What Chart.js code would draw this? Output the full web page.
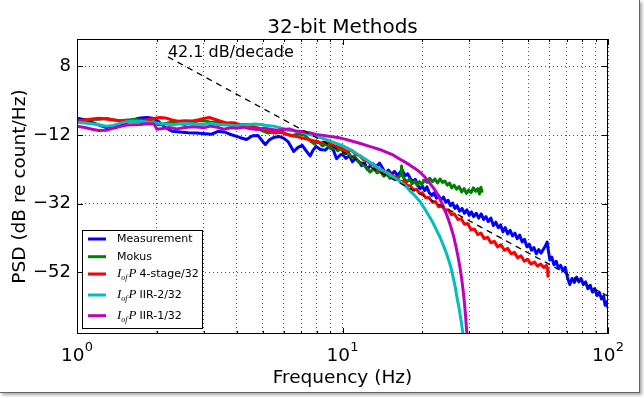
<!DOCTYPE html>
<html>
<head>
<meta charset="utf-8">
<script src="https://cdn.jsdelivr.net/npm/chart.js@4/dist/chart.umd.min.js"></script>
<style>
  html, body { margin: 0; padding: 0; background: #fff; }
  #frame { position: absolute; left: 0; top: 0; width: 639px; height: 392px; background: #fff;
           border-right: 1px solid #666; border-bottom: 1px solid #666; box-shadow: 2px 2px 3px rgba(0,0,0,0.35); }
  #wrap { position: absolute; left: 0; top: 0; width: 644px; height: 398px; }
</style>
</head>
<body>
<div id="frame"></div>
<div id="wrap"><canvas id="psdChart" width="644" height="398"></canvas></div>
<script>
// frequency (Hz) / PSD (dB re count/Hz)
const measFreq = [1.00,1.07,1.14,1.21,1.29,1.37,1.45,1.54,1.63,1.73,1.84,1.95,2.04,2.15,2.28,2.44,2.62,2.82,3.05,3.20,3.40,3.62,3.85,4.10,4.35,4.58,4.80,5.00,5.12,5.30,5.50,5.75,6.00,6.25,6.55,6.80,7.05,7.30,7.55,7.75,7.95,8.25,8.60,8.95,9.25,9.50,9.80,
  10.0,10.3,10.6,10.9,11.2,11.5,11.8,12.1,12.4,12.7,13.0,13.4,13.8,14.2,14.5,14.9,15.3,15.7,16.1,16.5,16.8,17.2,17.6,18.0,18.4,18.8,19.2,19.6,20.0,20.4,20.8,21.2,21.7,22.1,22.6,23.0,23.5,24.0,24.5,25.0,25.5,26.0,26.5,27.0,27.6,28.2,28.8,29.4,30.0,30.6,31.2,31.9,32.6,33.3,34.0,34.7,35.4,36.2,37.0,37.8,38.6,39.4,40.2,41.0,41.9,42.8,43.7,44.6,45.5,46.5,47.5,48.5,49.5,50.5,51.5,52.6,53.7,54.8,56.0,57.2,58.2,59.0,59.6,60.4,61.4,62.6,63.8,65.0,66.3,67.6,69.0,70.4,71.8,73.2,74.7,76.2,77.7,79.2,80.8,82.4,84.0,85.7,87.4,89.1,90.9,92.7,94.5,96.3,97.5,98.7,100];
const measPsd = [-7.1,-7.5,-8.3,-9.1,-9.8,-9.5,-9.0,-8.3,-7.5,-7.0,-6.9,-7.2,-8.2,-9.8,-10.9,-11.1,-11.3,-11.4,-11.6,-11.8,-10.9,-11.2,-12.0,-12.7,-13.3,-12.2,-12.1,-13.8,-14.8,-13.4,-12.7,-12.4,-12.9,-14.0,-16.8,-15.6,-15.0,-16.6,-18.1,-16.4,-15.3,-16.2,-16.4,-15.2,-16.5,-18.9,-17.8,
  -17.6,-18.8,-18.0,-19.8,-18.9,-19.6,-20.9,-20.1,-22.0,-21.0,-20.3,-21.2,-20.2,-21.8,-23.1,-22.2,-23.4,-22.6,-23.8,-22.8,-22.2,-23.9,-23.3,-24.6,-25.6,-24.9,-26.6,-27.7,-26.9,-28.2,-27.1,-28.8,-29.6,-28.9,-30.4,-29.6,-30.9,-30.1,-31.6,-31.0,-32.6,-31.8,-33.4,-32.6,-34.2,-33.4,-34.8,-33.8,-35.4,-34.4,-35.8,-34.8,-36.2,-35.0,-36.6,-35.8,-37.2,-36.2,-38.4,-37.4,-39.0,-38.2,-40.2,-39.0,-40.8,-39.8,-41.4,-40.6,-42.2,-41.2,-43.2,-42.4,-44.6,-43.8,-45.6,-44.8,-46.6,-45.4,-46.4,-45.2,-44.2,-43.2,-45.6,-48.4,-47.6,-49.8,-48.8,-50.8,-50.0,-51.6,-50.6,-53.6,-55.6,-53.8,-55.0,-53.4,-54.8,-53.8,-55.6,-54.8,-56.8,-55.8,-57.8,-56.8,-58.8,-57.8,-59.8,-59.0,-61.6,-60.6,-62.4];

const mokusFreq = [1.00,1.07,1.14,1.21,1.29,1.37,1.45,1.54,1.63,1.73,1.84,1.95,2.02,2.12,2.25,2.40,2.55,2.72,2.90,3.05,3.20,3.40,3.60,3.80,4.00,4.20,4.45,4.70,5.00,5.25,5.55,5.80,6.10,6.45,6.80,7.20,
  7.60,7.85,8.10,8.40,8.70,9.00,9.30,9.60,9.90,10.2,10.5,10.8,11.1,11.5,11.9,12.3,12.7,13.1,13.5,13.9,14.3,14.7,15.1,15.5,15.9,16.3,16.6,16.7,16.8,17.1,17.5,17.9,18.3,18.7,19.1,19.5,19.9,20.3,20.8,21.3,21.8,22.3,22.8,23.3,23.8,24.3,24.8,25.3,25.8,26.3,26.9,27.5,28.1,28.7,29.3,29.9,30.5,31.1,31.7,32.3,32.8,33.2,33.6];
const mokusPsd = [-7.9,-7.7,-7.5,-7.4,-7.2,-7.5,-7.9,-7.7,-7.5,-7.6,-7.8,-8.2,-9.0,-8.8,-8.3,-8.6,-8.9,-8.3,-7.8,-7.9,-8.3,-8.2,-8.6,-8.4,-9.4,-9.0,-8.9,-9.8,-10.8,-11.4,-10.9,-10.6,-11.6,-12.2,-11.7,-12.0,
  -13.8,-14.6,-13.9,-15.2,-14.6,-15.9,-15.4,-16.6,-16.0,-17.4,-17.0,-18.4,-18.2,-19.9,-20.3,-21.6,-22.8,-21.8,-23.0,-22.6,-24.0,-23.4,-24.6,-23.8,-25.0,-24.2,-23.6,-21.0,-23.8,-24.8,-25.6,-24.8,-26.2,-25.4,-26.6,-25.6,-26.4,-25.2,-25.8,-24.6,-25.6,-24.8,-26.0,-24.8,-25.8,-25.4,-26.6,-26.0,-27.4,-26.6,-27.8,-27.0,-28.6,-27.6,-29.0,-28.0,-28.8,-27.4,-28.4,-27.6,-29.2,-27.2,-28.8];

const stage4Freq = [1.00,1.07,1.14,1.21,1.29,1.37,1.45,1.54,1.63,1.73,1.84,1.95,2.05,2.15,2.28,2.40,2.55,2.72,2.88,3.00,3.15,3.30,3.50,3.70,3.90,4.10,4.35,4.60,4.85,5.05,5.30,5.55,5.85,6.15,6.50,6.85,7.20,7.55,7.90,8.30,8.70,9.10,9.55,
  10.0,10.4,10.8,11.2,11.6,12.0,12.4,12.8,13.2,13.6,14.0,14.5,15.0,15.5,16.0,16.5,17.0,17.5,18.0,18.5,19.0,19.5,20.0,20.6,21.2,21.8,22.4,23.0,23.6,24.3,25.0,25.7,26.4,27.2,28.0,28.8,29.6,30.5,31.4,32.3,33.2,34.2,35.2,36.2,37.3,38.4,39.5,40.7,41.9,43.1,44.4,45.7,47.0,48.4,49.8,51.3,52.8,54.3,55.8,57.3,58.6,59.2,59.4];
const stage4Psd = [-7.8,-7.6,-7.3,-7.1,-7.3,-7.6,-7.8,-7.7,-7.9,-8.0,-7.5,-7.2,-6.9,-7.0,-7.6,-8.0,-7.8,-7.9,-7.5,-7.2,-6.9,-7.4,-8.0,-8.6,-8.4,-9.0,-9.3,-9.6,-10.0,-10.3,-10.9,-11.4,-11.2,-11.8,-12.2,-12.6,-13.0,-13.4,-13.8,-14.3,-14.0,-14.8,-15.4,
  -16.0,-16.8,-16.4,-17.6,-18.0,-19.2,-19.6,-20.6,-20.9,-22.2,-22.0,-23.2,-23.0,-24.2,-24.4,-25.6,-25.4,-26.7,-26.8,-28.0,-27.8,-29.0,-28.9,-30.3,-30.2,-31.6,-31.4,-32.9,-32.6,-33.9,-33.8,-35.2,-35.0,-36.6,-36.4,-38.0,-37.8,-39.6,-39.4,-41.0,-40.6,-42.2,-41.8,-43.4,-43.0,-44.6,-44.0,-45.6,-45.0,-46.6,-46.2,-47.8,-47.2,-48.8,-48.2,-49.6,-49.0,-50.2,-49.6,-50.6,-50.0,-51.0,-53.2];

const iir2Freq = [1.00,1.07,1.14,1.21,1.29,1.37,1.45,1.54,1.63,1.73,1.84,1.95,2.05,2.15,2.30,2.45,2.60,2.80,3.00,3.20,3.40,3.65,3.90,4.15,4.40,4.65,4.90,5.20,5.50,5.85,6.20,6.60,7.05,7.50,7.95,8.45,9.00,9.60,10.2,10.9,11.6,12.3,13.0,13.8,14.6,15.5,16.4,17.2,17.9,18.7,19.5,20.2,20.8,21.4,22.0,22.7,23.3,24.0,24.6,25.1,25.6,26.1,26.6,27.0,27.5,27.9,28.2,28.5];
const iir2Psd = [-8.3,-8.5,-8.7,-9.0,-9.4,-9.2,-8.6,-8.1,-7.9,-8.0,-8.2,-8.4,-8.6,-8.8,-9.0,-8.7,-8.6,-8.8,-8.9,-8.6,-8.9,-9.1,-9.3,-9.2,-9.0,-8.8,-8.9,-9.2,-9.4,-9.9,-10.6,-10.8,-11.2,-11.8,-12.3,-13.0,-13.8,-14.6,-15.4,-16.6,-18.0,-19.2,-20.5,-21.9,-22.8,-24.2,-25.4,-26.6,-28.2,-29.6,-31.2,-33.0,-34.6,-36.2,-37.8,-40.0,-41.8,-44.2,-46.4,-48.4,-50.6,-53.4,-56.4,-59.4,-62.6,-65.6,-68.0,-71.0];

const iir1Freq = [1.00,1.07,1.14,1.21,1.29,1.37,1.45,1.54,1.63,1.73,1.84,1.95,2.00,2.10,2.22,2.38,2.55,2.72,2.90,3.00,3.18,3.37,3.57,3.80,4.00,4.24,4.50,4.75,5.05,5.35,5.65,5.95,6.30,6.65,7.05,7.50,7.95,8.45,9.00,9.60,10.2,10.9,11.6,12.3,13.0,13.8,14.6,15.5,16.4,17.2,17.9,18.8,19.7,20.5,21.3,22.0,22.7,23.3,23.9,24.5,25.1,25.6,26.2,26.7,27.2,27.7,28.1,28.5,28.8,29.1,29.3,29.5];
const iir1Psd = [-9.4,-9.8,-10.3,-10.7,-10.6,-10.0,-9.5,-9.1,-9.0,-8.9,-8.7,-8.8,-10.3,-10.1,-9.8,-10.2,-9.8,-9.6,-9.7,-9.9,-9.4,-9.7,-10.3,-9.9,-10.0,-9.7,-10.2,-10.4,-10.0,-10.3,-10.6,-10.4,-10.2,-10.8,-11.0,-11.3,-11.8,-12.1,-12.4,-12.7,-13.2,-13.8,-14.4,-15.0,-15.6,-16.2,-17.0,-17.8,-19.0,-19.9,-20.7,-21.8,-23.0,-24.4,-26.0,-27.4,-29.0,-30.8,-32.6,-34.6,-36.8,-38.8,-41.4,-44.2,-47.2,-50.6,-53.8,-57.6,-61.0,-65.0,-68.4,-71.0];

const slopeFreq = [2.2, 100];
const slopePsd = [10.8, -59];
const slopeLabel = '42.1 dB/decade';

const xMajorTicks = [1, 10, 100];
const xMajorExp = ['0', '1', '2'];
const xMinorTicks = [2, 3, 4, 5, 6, 7, 8, 9, 20, 30, 40, 50, 60, 70, 80, 90];
const yTicks = [8, -12, -32, -52];

const seriesNames = ['Measurement', 'Mokus', '4-stage/32', 'IIR-2/32', 'IIR-1/32'];
const seriesColors = ['#0000ff', '#008000', '#ff0000', '#00bfbf', '#bf00bf'];

const FONT = '"DejaVu Sans", sans-serif';

const pts = (xs, ys) => xs.map((x, i) => ({ x: x, y: ys[i] }));

const curve = (i, xs, ys) => ({
  label: seriesNames[i],
  data: pts(xs, ys),
  borderColor: seriesColors[i],
  borderWidth: 3,
  borderJoinStyle: 'round',
  pointRadius: 0,
  tension: 0,
  clip: 0,
  order: 5 - i
});

const decorations = {
  id: 'decorations',
  afterDraw(chart) {
    const { ctx, chartArea: a, scales: { x, y } } = chart;
    ctx.save();

    // slope annotation
    const sx = x.getPixelForValue(slopeFreq[0]);
    const sy = y.getPixelForValue(slopePsd[0]);
    ctx.fillStyle = '#000';
    ctx.font = '16px ' + FONT;
    ctx.textAlign = 'left';
    ctx.textBaseline = 'alphabetic';
    ctx.fillText(slopeLabel, sx, sy);

    // axes frame and inward ticks
    ctx.strokeStyle = '#000';
    ctx.lineWidth = 1;
    ctx.strokeRect(a.left + 0.5, a.top + 0.5, a.right - a.left - 1, a.bottom - a.top - 1);
    ctx.beginPath();
    const xtick = (v, len) => {
      const p = Math.round(x.getPixelForValue(v)) + 0.5;
      ctx.moveTo(p, a.bottom); ctx.lineTo(p, a.bottom - len);
      ctx.moveTo(p, a.top); ctx.lineTo(p, a.top + len);
    };
    xMajorTicks.forEach(v => xtick(v, 6));
    xMinorTicks.forEach(v => xtick(v, 3));
    yTicks.forEach(v => {
      const p = Math.round(y.getPixelForValue(v)) + 0.5;
      ctx.moveTo(a.left, p); ctx.lineTo(a.left + 6, p);
      ctx.moveTo(a.right, p); ctx.lineTo(a.right - 6, p);
    });
    ctx.stroke();

    // x tick labels 10^n
    ctx.textAlign = 'left';
    xMajorTicks.forEach((v, i) => {
      const p = x.getPixelForValue(v);
      ctx.font = '18.5px ' + FONT;
      const w1 = ctx.measureText('10').width;
      ctx.font = '13px ' + FONT;
      const w2 = ctx.measureText(xMajorExp[i]).width;
      const start = p - (w1 + w2) / 2;
      ctx.font = '18.5px ' + FONT;
      ctx.fillText('10', start, a.bottom + 27);
      ctx.font = '13px ' + FONT;
      ctx.fillText(xMajorExp[i], start + w1, a.bottom + 17);
    });

    // title
    ctx.font = '20px ' + FONT;
    ctx.textAlign = 'center';
    ctx.fillText('32-bit Methods', (a.left + a.right) / 2, a.top - 6);

    // legend
    const bx = a.left + 5, bw = 121, bh = 99, by = a.bottom - 5 - bh;
    ctx.fillStyle = '#fff';
    ctx.fillRect(bx, by, bw, bh);
    ctx.strokeStyle = '#000';
    ctx.strokeRect(bx + 0.5, by + 0.5, bw - 1, bh - 1);
    const rows = [9, 26.7, 44, 65, 85.7];
    ctx.textBaseline = 'middle';
    ctx.textAlign = 'left';
    rows.forEach((ry, i) => {
      const cy = by + ry;
      ctx.strokeStyle = seriesColors[i];
      ctx.lineWidth = 3;
      ctx.beginPath();
      ctx.moveTo(bx + 6, cy); ctx.lineTo(bx + 24, cy);
      ctx.stroke();
      ctx.fillStyle = '#000';
      let tx = bx + 35;
      if (i >= 2) {
        ctx.font = 'italic 13px "Liberation Serif", serif';
        ctx.fillText('I', tx, cy);
        tx += ctx.measureText('I').width;
        ctx.font = 'italic 8px "Liberation Serif", serif';
        ctx.fillText('of', tx, cy + 4);
        tx += ctx.measureText('of').width + 1;
        ctx.font = 'italic 13px "Liberation Serif", serif';
        ctx.fillText('P', tx, cy);
        tx += ctx.measureText('P').width + 3;
      }
      ctx.font = '11px ' + FONT;
      ctx.fillText(seriesNames[i], tx, cy);
    });
    ctx.restore();
  }
};

new Chart(document.getElementById('psdChart'), {
  type: 'line',
  data: {
    datasets: [
      curve(0, measFreq, measPsd),
      curve(1, mokusFreq, mokusPsd),
      curve(2, stage4Freq, stage4Psd),
      curve(3, iir2Freq, iir2Psd),
      curve(4, iir1Freq, iir1Psd),
      {
        label: 'slope',
        data: pts(slopeFreq, slopePsd),
        borderColor: '#000',
        borderWidth: 1.3,
        borderDash: [6, 5],
        pointRadius: 0,
        clip: 0,
        order: 0
      }
    ]
  },
  options: {
    responsive: false,
    animation: false,
    events: [],
    layout: { padding: { left: 0, top: 39, right: 36, bottom: 0 } },
    scales: {
      x: {
        type: 'logarithmic',
        min: 1,
        max: 100,
        afterBuildTicks: (s) => { s.ticks = xMajorTicks.concat(xMinorTicks).map(v => ({ value: v })); },
        afterFit: (s) => { s.height = 64; },
        ticks: { display: false },
        grid: { color: '#555', lineWidth: 1, drawTicks: false },
        border: { display: false, dash: [1, 3] },
        title: {
          display: true,
          text: 'Frequency (Hz)',
          color: '#000',
          font: { family: FONT, size: 18.5 },
          padding: { top: 0, bottom: 9 }
        }
      },
      y: {
        min: -70,
        max: 16,
        afterBuildTicks: (s) => { s.ticks = yTicks.map(v => ({ value: v })); },
        afterFit: (s) => { s.width = 77; },
        ticks: {
          color: '#000',
          padding: 6,
          font: { family: FONT, size: 18 },
          callback: (v) => (v < 0 ? '\u2212' + Math.abs(v) : String(v))
        },
        grid: { color: '#555', lineWidth: 1, drawTicks: false },
        border: { display: false, dash: [1, 3] },
        title: {
          display: true,
          text: 'PSD (dB re count/Hz)',
          color: '#000',
          font: { family: FONT, size: 18.5 },
          padding: { top: 9, bottom: 0 }
        }
      }
    },
    plugins: {
      legend: { display: false },
      tooltip: { enabled: false }
    }
  },
  plugins: [decorations]
});
</script>
</body>
</html>
